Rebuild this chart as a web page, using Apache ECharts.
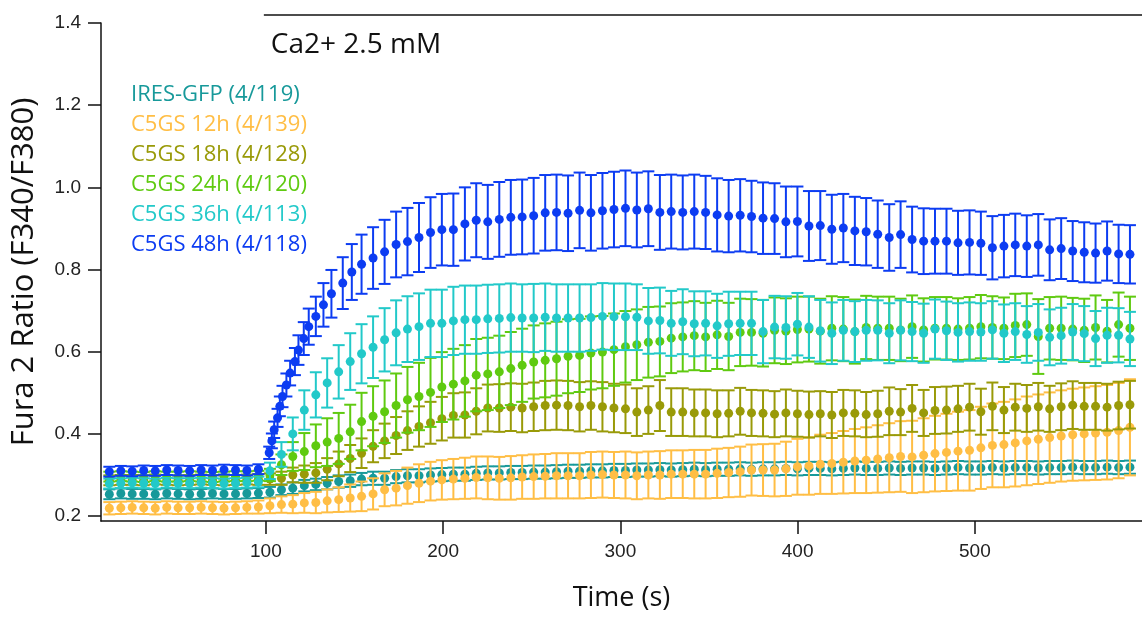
<!DOCTYPE html>
<html><head><meta charset="utf-8">
<script src="https://cdn.jsdelivr.net/npm/echarts@6/dist/echarts.min.js"></script>
<style>html,body{margin:0;padding:0;background:#fff}#c{width:1142px;height:617px}</style>
</head><body><div id="c"></div>
<script>
// Time points (s), shared by most series
const time = [11.7,18.2,24.6,31.1,37.6,44.1,50.5,57.0,63.5,69.9,
76.4,82.9,89.3,95.8,102.3,108.8,115.2,121.7,128.2,134.6,
141.1,147.6,154.0,160.5,167.0,173.5,179.9,186.4,192.9,199.3,
205.8,212.3,218.7,225.2,231.7,238.2,244.6,251.1,257.6,264.0,
270.5,277.0,283.4,289.9,296.4,302.9,309.3,315.8,322.3,328.7,
335.2,341.7,348.1,354.6,361.1,367.6,374.0,380.5,387.0,393.4,
399.9,406.4,412.8,419.3,425.8,432.3,438.7,445.2,451.7,458.1,
464.6,471.1,477.5,484.0,490.5,497.0,503.4,509.9,516.4,522.8,
529.3,535.8,542.2,548.7,555.2,561.7,568.1,574.6,581.1,587.5];

// C5GS 48h was sampled faster during the rise
const time48 = [11.7,18.2,24.6,31.1,37.6,44.1,50.5,57.0,63.5,69.9,
76.4,82.9,89.3,95.8,
101.9,103.4,104.7,106.6,107.9,109.4,111.6,113.7,116.4,118.4,121.4,124.2,128.2,132.5,137.0,143.4,148.5,
154.0,160.5,167.0,173.5,179.9,186.4,192.9,199.3,
205.8,212.3,218.7,225.2,231.7,238.2,244.6,251.1,257.6,264.0,
270.5,277.0,283.4,289.9,296.4,302.9,309.3,315.8,322.3,328.7,
335.2,341.7,348.1,354.6,361.1,367.6,374.0,380.5,387.0,393.4,
399.9,406.4,412.8,419.3,425.8,432.3,438.7,445.2,451.7,458.1,
464.6,471.1,477.5,484.0,490.5,497.0,503.4,509.9,516.4,522.8,
529.3,535.8,542.2,548.7,555.2,561.7,568.1,574.6,581.1,587.5];

const seriesNames = ['IRES-GFP (4/119)','C5GS 12h (4/139)','C5GS 18h (4/128)','C5GS 24h (4/120)','C5GS 36h (4/113)','C5GS 48h (4/118)'];
const seriesColors = ['#17999a','#ffbe45','#999a08','#5fca10','#22c9c9','#0c3cf2'];

const iresMean = [0.253,0.255,0.254,0.254,0.253,0.255,0.254,0.253,0.254,0.255,
0.254,0.254,0.255,0.256,0.258,0.264,0.268,0.274,0.277,0.280,
0.284,0.286,0.290,0.292,0.292,0.296,0.298,0.298,0.300,0.301,
0.302,0.302,0.304,0.305,0.305,0.306,0.306,0.307,0.307,0.308,
0.309,0.309,0.310,0.310,0.311,0.311,0.312,0.312,0.313,0.312,
0.313,0.314,0.313,0.314,0.314,0.315,0.314,0.315,0.315,0.316,
0.315,0.316,0.316,0.315,0.316,0.317,0.316,0.316,0.317,0.316,
0.317,0.317,0.316,0.317,0.318,0.317,0.317,0.318,0.317,0.318,
0.318,0.317,0.318,0.318,0.319,0.318,0.318,0.319,0.318,0.319];
const iresErr = [0.012,0.012,0.012,0.012,0.012,0.012,0.012,0.012,0.012,0.012,
0.012,0.012,0.012,0.012,0.013,0.013,0.014,0.014,0.014,0.015,
0.015,0.015,0.015,0.016,0.016,0.016,0.016,0.016,0.016,0.016,
0.016,0.016,0.016,0.016,0.016,0.016,0.016,0.016,0.016,0.016,
0.016,0.016,0.016,0.016,0.016,0.016,0.016,0.016,0.016,0.016,
0.016,0.016,0.016,0.016,0.016,0.016,0.016,0.016,0.016,0.016,
0.016,0.016,0.016,0.016,0.016,0.016,0.016,0.016,0.016,0.016,
0.016,0.016,0.016,0.016,0.016,0.016,0.016,0.016,0.016,0.016,
0.016,0.016,0.016,0.016,0.016,0.016,0.016,0.016,0.016,0.016];

const h12Mean = [0.219,0.220,0.221,0.220,0.219,0.221,0.220,0.220,0.221,0.220,
0.219,0.220,0.221,0.222,0.225,0.228,0.229,0.232,0.233,0.237,
0.240,0.244,0.248,0.254,0.264,0.268,0.274,0.280,0.285,0.288,
0.290,0.292,0.294,0.293,0.292,0.293,0.295,0.296,0.297,0.298,
0.298,0.298,0.300,0.301,0.300,0.300,0.298,0.300,0.300,0.302,
0.302,0.302,0.302,0.304,0.306,0.308,0.312,0.312,0.312,0.315,
0.320,0.322,0.326,0.328,0.331,0.334,0.336,0.339,0.342,0.345,
0.344,0.348,0.352,0.355,0.358,0.360,0.366,0.372,0.374,0.378,
0.383,0.387,0.391,0.395,0.398,0.400,0.402,0.404,0.408,0.416];
const h12Err = [0.015,0.015,0.015,0.015,0.015,0.015,0.015,0.015,0.015,0.015,
0.015,0.015,0.015,0.016,0.018,0.020,0.022,0.024,0.026,0.028,
0.030,0.033,0.036,0.038,0.040,0.042,0.044,0.046,0.047,0.048,
0.049,0.050,0.051,0.052,0.052,0.053,0.053,0.054,0.054,0.055,
0.055,0.055,0.056,0.056,0.056,0.057,0.057,0.057,0.058,0.058,
0.058,0.059,0.059,0.060,0.060,0.061,0.062,0.063,0.064,0.066,
0.068,0.070,0.072,0.074,0.076,0.078,0.080,0.082,0.084,0.086,
0.088,0.090,0.092,0.094,0.096,0.098,0.100,0.102,0.104,0.106,
0.108,0.109,0.110,0.111,0.112,0.113,0.114,0.115,0.116,0.117];

const h18Mean = [0.287,0.288,0.288,0.287,0.289,0.288,0.287,0.288,0.289,0.288,
0.287,0.288,0.289,0.289,0.290,0.292,0.300,0.302,0.305,0.314,
0.327,0.340,0.353,0.370,0.383,0.396,0.408,0.418,0.427,0.437,
0.445,0.446,0.455,0.463,0.463,0.465,0.463,0.466,0.469,0.470,
0.469,0.466,0.469,0.466,0.463,0.461,0.453,0.458,0.469,0.453,
0.453,0.451,0.451,0.449,0.450,0.455,0.451,0.450,0.448,0.451,
0.449,0.447,0.449,0.446,0.451,0.450,0.447,0.449,0.455,0.453,
0.462,0.451,0.457,0.458,0.461,0.465,0.454,0.467,0.458,0.465,
0.462,0.466,0.461,0.466,0.470,0.467,0.467,0.465,0.469,0.471];
const h18Err = [0.012,0.012,0.012,0.012,0.012,0.012,0.012,0.012,0.012,0.012,
0.012,0.012,0.012,0.013,0.014,0.016,0.018,0.021,0.024,0.027,
0.030,0.033,0.036,0.039,0.042,0.045,0.047,0.049,0.051,0.053,
0.054,0.055,0.056,0.057,0.058,0.058,0.059,0.059,0.060,0.060,
0.060,0.060,0.059,0.060,0.059,0.059,0.058,0.058,0.062,0.058,
0.058,0.057,0.057,0.057,0.056,0.057,0.056,0.056,0.056,0.057,
0.056,0.056,0.055,0.056,0.056,0.056,0.055,0.056,0.058,0.056,
0.057,0.056,0.057,0.057,0.056,0.057,0.056,0.058,0.056,0.057,
0.057,0.058,0.056,0.057,0.058,0.057,0.057,0.057,0.058,0.058];

const h24Mean = [0.296,0.297,0.296,0.295,0.297,0.296,0.296,0.297,0.296,0.295,
0.296,0.297,0.297,0.298,0.300,0.325,0.345,0.357,0.371,0.380,
0.389,0.405,0.430,0.443,0.454,0.469,0.483,0.491,0.501,0.514,
0.521,0.529,0.543,0.546,0.551,0.559,0.567,0.575,0.579,0.583,
0.589,0.591,0.597,0.599,0.605,0.612,0.617,0.623,0.625,0.633,
0.636,0.639,0.636,0.641,0.637,0.647,0.647,0.645,0.652,0.650,
0.654,0.655,0.650,0.657,0.655,0.649,0.659,0.657,0.657,0.653,
0.661,0.653,0.657,0.657,0.655,0.657,0.661,0.659,0.657,0.664,
0.666,0.637,0.657,0.657,0.655,0.652,0.659,0.650,0.666,0.657];
const h24Err = [0.012,0.012,0.012,0.012,0.012,0.012,0.012,0.012,0.012,0.012,
0.012,0.012,0.012,0.012,0.015,0.025,0.035,0.045,0.052,0.058,
0.062,0.066,0.070,0.073,0.076,0.078,0.080,0.082,0.084,0.085,
0.086,0.087,0.088,0.088,0.088,0.089,0.089,0.089,0.090,0.090,
0.090,0.089,0.089,0.088,0.088,0.087,0.086,0.086,0.085,0.085,
0.084,0.084,0.083,0.083,0.082,0.082,0.081,0.081,0.080,0.080,
0.080,0.079,0.079,0.078,0.078,0.078,0.077,0.077,0.077,0.076,
0.076,0.077,0.076,0.076,0.075,0.076,0.077,0.076,0.075,0.077,
0.076,0.091,0.076,0.077,0.076,0.077,0.078,0.076,0.078,0.077];

const h36Mean = [0.279,0.280,0.281,0.280,0.279,0.281,0.280,0.280,0.281,0.280,
0.279,0.280,0.281,0.283,0.310,0.350,0.400,0.458,0.495,0.524,
0.551,0.576,0.595,0.611,0.629,0.646,0.655,0.661,0.669,0.669,
0.675,0.678,0.678,0.680,0.681,0.683,0.682,0.682,0.684,0.682,
0.682,0.682,0.683,0.686,0.685,0.685,0.684,0.675,0.676,0.669,
0.673,0.668,0.669,0.663,0.668,0.669,0.669,0.649,0.660,0.659,
0.667,0.660,0.651,0.645,0.652,0.649,0.652,0.652,0.645,0.652,
0.649,0.645,0.655,0.651,0.647,0.649,0.648,0.653,0.645,0.649,
0.642,0.647,0.635,0.639,0.648,0.644,0.632,0.640,0.640,0.631];
const h36Err = [0.012,0.012,0.012,0.012,0.012,0.012,0.012,0.012,0.012,0.012,
0.012,0.012,0.012,0.013,0.020,0.030,0.040,0.048,0.055,0.060,
0.065,0.069,0.072,0.075,0.077,0.079,0.080,0.081,0.082,0.082,
0.083,0.083,0.083,0.083,0.083,0.083,0.082,0.083,0.082,0.082,
0.082,0.082,0.081,0.081,0.081,0.081,0.080,0.080,0.080,0.079,
0.079,0.079,0.078,0.078,0.078,0.077,0.077,0.077,0.076,0.076,
0.076,0.075,0.075,0.075,0.074,0.074,0.074,0.073,0.073,0.073,
0.072,0.072,0.072,0.071,0.071,0.071,0.070,0.070,0.070,0.069,
0.069,0.069,0.068,0.068,0.068,0.067,0.067,0.067,0.066,0.066];

const h48Mean = [0.308,0.310,0.309,0.311,0.310,0.312,0.311,0.310,0.312,0.311,
0.313,0.312,0.311,0.314,
0.354,0.383,0.410,0.439,0.467,0.491,0.519,0.548,0.576,0.604,0.632,0.661,0.686,0.714,0.741,0.767,0.794,
0.813,0.828,0.843,0.861,0.868,0.878,0.890,0.897,
0.897,0.911,0.920,0.916,0.922,0.927,0.928,0.931,0.938,0.939,
0.937,0.944,0.938,0.943,0.946,0.949,0.945,0.948,0.939,0.941,
0.939,0.941,0.939,0.933,0.930,0.932,0.929,0.925,0.924,0.916,
0.917,0.906,0.907,0.898,0.901,0.894,0.892,0.886,0.878,0.885,
0.873,0.869,0.869,0.869,0.865,0.866,0.864,0.853,0.857,0.860,
0.857,0.860,0.848,0.851,0.845,0.842,0.840,0.845,0.838,0.837];
const h48Err = [0.012,0.012,0.012,0.012,0.012,0.012,0.012,0.012,0.012,0.012,
0.012,0.012,0.012,0.012,
0.015,0.018,0.020,0.022,0.024,0.026,0.028,0.030,0.033,0.036,0.040,0.044,0.048,0.053,0.058,0.063,0.068,
0.072,0.075,0.078,0.080,0.082,0.084,0.086,0.087,
0.088,0.089,0.090,0.090,0.091,0.091,0.091,0.092,0.092,0.092,
0.092,0.092,0.092,0.092,0.092,0.092,0.091,0.091,0.091,0.090,
0.090,0.090,0.089,0.089,0.088,0.088,0.087,0.087,0.086,0.086,
0.085,0.085,0.084,0.084,0.083,0.083,0.082,0.082,0.081,0.081,
0.080,0.080,0.079,0.079,0.078,0.078,0.077,0.077,0.076,0.076,
0.075,0.075,0.074,0.074,0.073,0.073,0.072,0.072,0.071,0.071];

const yTicks = [0.2,0.4,0.6,0.8,1.0,1.2,1.4];
const xTicks = [100,200,300,400,500];
const caAddTime = 100;
const caLabel = 'Ca2+ 2.5 mM';
const xTitle = 'Time (s)';
const yTitle = 'Fura 2 Ratio (F340/F380)';

const groups = [
  {t: time, m: iresMean, e: iresErr},
  {t: time, m: h12Mean, e: h12Err},
  {t: time, m: h18Mean, e: h18Err},
  {t: time, m: h24Mean, e: h24Err},
  {t: time, m: h36Mean, e: h36Err},
  {t: time48, m: h48Mean, e: h48Err}
];

const chart = echarts.init(document.getElementById('c'), null, {renderer: 'canvas'});
const series = [];
groups.forEach((g, k) => {
  const color = seriesColors[k];
  series.push({
    type: 'custom', name: seriesNames[k], clip: true, z: 2 + k * 2,
    data: g.t.map((t, i) => [t, g.m[i] - g.e[i], g.m[i] + g.e[i]]),
    encode: {x: 0, y: [1, 2]},
    renderItem: (params, api) => {
      const x = api.value(0);
      const p1 = api.coord([x, api.value(2)]);
      const p2 = api.coord([x, api.value(1)]);
      const hw = 6;
      const st = {stroke: color, lineWidth: 2};
      return {type: 'group', children: [
        {type: 'line', shape: {x1: p1[0], y1: p1[1], x2: p2[0], y2: p2[1]}, style: st},
        {type: 'line', shape: {x1: p1[0] - hw, y1: p1[1], x2: p1[0] + hw, y2: p1[1]}, style: st},
        {type: 'line', shape: {x1: p2[0] - hw, y1: p2[1], x2: p2[0] + hw, y2: p2[1]}, style: st}
      ]};
    }
  });
  series.push({
    type: 'scatter', name: seriesNames[k], z: 3 + k * 2,
    symbol: 'circle', symbolSize: 9,
    itemStyle: {color: color, opacity: 1},
    data: g.t.map((t, i) => [t, g.m[i]])
  });
});

const tickFont = {fontFamily: 'Liberation Sans', fontSize: 19, color: '#222'};

chart.setOption({
  animation: false,
  backgroundColor: '#fff',
  grid: {left: 101, right: 0, top: 23, bottom: 89, containLabel: false},
  legend: {
    orient: 'vertical', left: 121, top: 75, padding: 5,
    itemWidth: 0, itemHeight: 14, itemGap: 0,
    selectedMode: false,
    data: seriesNames.map((n, k) => ({name: n, icon: 'none', textStyle: {color: seriesColors[k]}})),
    textStyle: {fontFamily: 'Open Sans', fontSize: 22, lineHeight: 30}
  },
  xAxis: {
    type: 'value', min: 7, max: 594.3,
    name: xTitle, nameLocation: 'middle', nameGap: 64,
    nameTextStyle: {fontFamily: 'Open Sans', fontSize: 27, color: '#111'},
    axisLine: {show: true, onZero: false, lineStyle: {color: '#111', width: 1.5}},
    axisTick: {show: true, length: 13, lineStyle: {color: '#111', width: 1.5}, customValues: xTicks},
    axisLabel: Object.assign({margin: 21, customValues: xTicks}, tickFont),
    splitLine: {show: false}
  },
  yAxis: {
    type: 'value', min: 0.188, max: 1.4,
    name: yTitle, nameLocation: 'middle', nameGap: 61, nameRotate: 90,
    nameTextStyle: {fontFamily: 'Open Sans', fontSize: 31, color: '#111'},
    axisLine: {show: true, onZero: false, lineStyle: {color: '#111', width: 1.5}},
    axisTick: {show: true, length: 13, lineStyle: {color: '#111', width: 1.5}, customValues: yTicks},
    axisLabel: Object.assign({margin: 20, customValues: yTicks, formatter: v => v.toFixed(1)}, tickFont),
    splitLine: {show: false}
  },
  series: series
});

const xCa = chart.convertToPixel({xAxisIndex: 0}, caAddTime);
chart.setOption({
  graphic: [
    {type: 'line', shape: {x1: xCa - 2, y1: 15, x2: 1142, y2: 15}, style: {stroke: '#111', lineWidth: 1.5}, z: 50},
    {type: 'text', x: xCa + 5, y: 45, style: {text: caLabel, fontFamily: 'Open Sans', fontSize: 28, fill: '#111', textVerticalAlign: 'middle', textAlign: 'left'}, z: 50}
  ]
});
</script>
</body></html>
